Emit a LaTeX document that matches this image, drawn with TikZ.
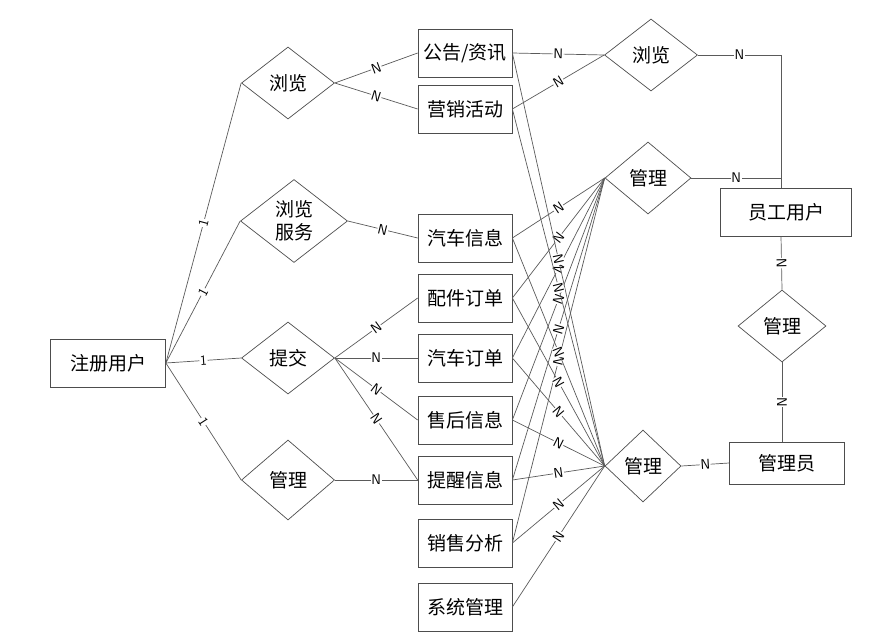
\documentclass[tikz,border=0pt]{standalone}
\usepackage{fontspec}
\usepackage{tikz}
\usetikzlibrary{shapes.geometric}
\newfontfamily\cjk{Noto Sans CJK SC}
\definecolor{linegray}{HTML}{5A5A5A}
\definecolor{boxgray}{HTML}{4D4D4D}

\begin{document}
\begin{tikzpicture}[x=1pt, y=-1pt, line width=0.7pt,
  entity/.style={draw=boxgray, rectangle, minimum width=94pt, minimum height=48pt, inner sep=0pt, font=\cjk\fontsize{19}{23}\selectfont},
  rel/.style={draw=boxgray, diamond, minimum width=93pt, minimum height=72pt, inner sep=0pt, font=\cjk\fontsize{19}{23}\selectfont},
  card/.style={sloped, fill=white, inner sep=0.6pt, font=\sffamily\fontsize{14}{14}\selectfont},
  link/.style={draw=linegray}]
\useasboundingbox (0,0) rectangle (893,643);

% left side
\node[entity, minimum width=115pt] (reg) at (108,363) {注册用户};
\node[rel] (browse) at (288,83) {浏览};
\node[rel, minimum width=107pt, minimum height=83pt, label={[font=\cjk\fontsize{19}{23}\selectfont, align=center]center:浏览\\服务}] (service) at (294,221) {};
\node[rel] (submit) at (288,358) {提交};
\node[rel, minimum height=80pt] (manage) at (288,480) {管理};

% middle column
\node[entity] (notice) at (465,53) {公告/资讯};
\node[entity] (promo) at (465,109) {营销活动};
\node[entity] (carinfo) at (465,238) {汽车信息};
\node[entity] (partorder) at (465,298) {配件订单};
\node[entity] (carorder) at (465,358) {汽车订单};
\node[entity] (aftersale) at (465,420) {售后信息};
\node[entity] (remind) at (465,480) {提醒信息};
\node[entity] (sales) at (465,543) {销售分析};
\node[entity] (system) at (465,607) {系统管理};

% right side
\node[rel] (browseR) at (651,55) {浏览};
\node[rel, minimum width=86pt] (manageU) at (648,178) {管理};
\node[rel, minimum width=76pt] (manageL) at (643,466) {管理};
\node[rel, minimum width=88pt] (manageR) at (782,326) {管理};
\node[entity, minimum width=131pt] (staff) at (786,212) {员工用户};
\node[entity, minimum width=115pt, minimum height=42pt] (admin) at (787,463) {管理员};

\draw[link] (reg.east) -- node[card] {1} (browse.west);
\draw[link] (reg.east) -- node[card] {1} (service.west);
\draw[link] (reg.east) -- node[card] {1} (submit.west);
\draw[link] (reg.east) -- node[card] {1} (manage.west);

\draw[link] (browse.east) -- node[card] {N} (notice.west);
\draw[link] (browse.east) -- node[card] {N} (promo.west);
\draw[link] (service.east) -- node[card] {N} (carinfo.west);
\draw[link] (submit.east) -- node[card] {N} (partorder.west);
\draw[link] (submit.east) -- node[card] {N} (carorder.west);
\draw[link] (submit.east) -- node[card] {N} (aftersale.west);
\draw[link] (submit.east) -- node[card] {N} (remind.west);
\draw[link] (manage.east) -- node[card] {N} (remind.west);

\draw[link] (notice.east) -- node[card] {N} (browseR.west);
\draw[link] (promo.east) -- node[card] {N} (browseR.west);

\draw[link] (carinfo.east) -- node[card] {N} (manageU.west);
\draw[link] (partorder.east) -- node[card] {N} (manageU.west);
\draw[link] (carorder.east) -- node[card] {N} (manageU.west);
\draw[link] (aftersale.east) -- node[card] {N} (manageU.west);
\draw[link] (remind.east) -- node[card] {N} (manageU.west);
\draw[link] (sales.east) -- node[card] {N} (manageU.west);

\draw[link] (notice.east) -- node[card] {N} (manageL.west);
\draw[link] (promo.east) -- node[card] {N} (manageL.west);
\draw[link] (carinfo.east) -- node[card] {N} (manageL.west);
\draw[link] (partorder.east) -- node[card] {N} (manageL.west);
\draw[link] (carorder.east) -- node[card] {N} (manageL.west);
\draw[link] (aftersale.east) -- node[card] {N} (manageL.west);
\draw[link] (remind.east) -- node[card] {N} (manageL.west);
\draw[link] (sales.east) -- node[card] {N} (manageL.west);
\draw[link] (system.east) -- node[card] {N} (manageL.west);

\draw[link] (browseR.east) -| node[card, pos=0.25] {N} ([xshift=-5pt]staff.north);
\draw[link] (manageU.east) -| node[card, pos=0.25] {N} ([xshift=-5pt]staff.north);
\draw[link] ([xshift=-5pt]staff.south) -- node[card] {N} (manageR.north);
\draw[link] (manageR.south) -- node[card] {N} ([xshift=-5pt]admin.north);
\draw[link] (manageL.east) -- node[card] {N} (admin.west);
\end{tikzpicture}
\end{document}
